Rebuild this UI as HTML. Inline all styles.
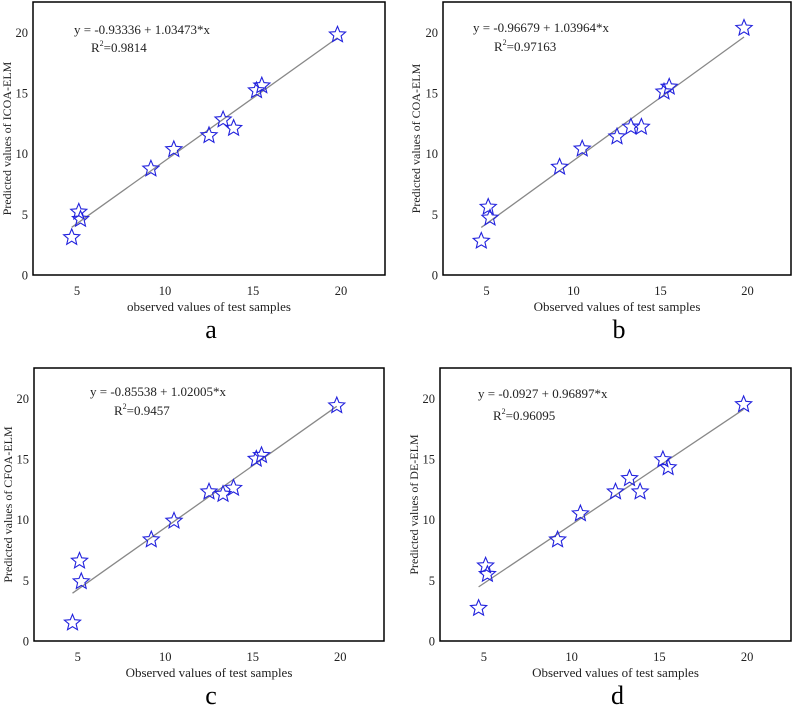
<!DOCTYPE html>
<html><head><meta charset="utf-8"><style>
body{margin:0;background:#fff;}
svg{display:block;font-family:"Liberation Serif",serif;}
</style></head><body>
<svg id="chart" width="796" height="711" viewBox="0 0 796 711" xmlns="http://www.w3.org/2000/svg"></svg>
<script>
const observed = [4.7, 5.1, 5.2, 9.2, 10.5, 12.5, 13.3, 13.9, 15.2, 15.5, 19.8];
const predA = [3.1, 5.2, 4.6, 8.75, 10.35, 11.5, 12.8, 12.1, 15.2, 15.6, 19.8];
const predB = [2.8, 5.6, 4.7, 8.9, 10.4, 11.4, 12.2, 12.2, 15.1, 15.5, 20.35];
const predC = [1.5, 6.6, 4.9, 8.35, 9.9, 12.3, 12.1, 12.6, 15.0, 15.3, 19.4];
const predD = [2.7, 6.2, 5.5, 8.35, 10.5, 12.3, 13.4, 12.3, 14.95, 14.3, 19.5];
const intercepts = [-0.93336, -0.96679, -0.85538, -0.0927];
const slopes = [1.03473, 1.03964, 1.02005, 0.96897];
const eqLabels = ["y = -0.93336 + 1.03473*x", "y = -0.96679 + 1.03964*x", "y = -0.85538 + 1.02005*x", "y = -0.0927 + 0.96897*x"];
const r2Labels = ["0.9814", "0.97163", "0.9457", "0.96095"];
const yTitles = ["Predicted values of ICOA-ELM", "Predicted values of COA-ELM", "Predicted values of CFOA-ELM", "Predicted values of DE-ELM"];
const xTitles = ["observed values of test samples", "Observed values of test samples", "Observed values of test samples", "Observed values of test samples"];
const panelLetters = ["a", "b", "c", "d"];
const xTicks = [5, 10, 15, 20];
const yTicks = [0, 5, 10, 15, 20];
const preds = [predA, predB, predC, predD];

const layout = [
  {l:33, r:385, b:275, t:2, eq:[74,34], r2:[91,52], yt:11},
  {l:443, r:791, b:275, t:2, eq:[473,32], r2:[494,51], yt:420},
  {l:34, r:384, b:641, t:368, eq:[90,396], r2:[114,415], yt:12},
  {l:440, r:791, b:641, t:368, eq:[478,398], r2:[493,420], yt:418}
];
const NS = "http://www.w3.org/2000/svg";
const svg = document.getElementById('chart');
function mk(tag, attrs, parent){const e=document.createElementNS(NS,tag);for(const k in attrs)e.setAttribute(k,attrs[k]);(parent||svg).appendChild(e);return e;}
function star(cx,cy,R){const r=R*0.45;let p=[];for(let i=0;i<10;i++){const a=-Math.PI/2+i*Math.PI/5;const rr=i%2?r:R;p.push((cx+rr*Math.cos(a)).toFixed(1)+","+(cy+rr*Math.sin(a)).toFixed(1));}return p.join(" ");}

layout.forEach((L,i)=>{
  const g = mk('g',{});
  
  
  const xs = v => L.l + (v-2.5)/20*(L.r-L.l);
  const ys = v => L.b - v/22.5*(L.b-L.t);
  const fr = mk('rect',{x:L.l,y:L.t,width:L.r-L.l,height:L.b-L.t,fill:'none',stroke:'#000','stroke-width':1.5},g);
  
  
  xTicks.forEach(v=>{
    const t=mk('text',{x:xs(v),y:L.b+20,'text-anchor':'middle','font-size':12.5,fill:'#222'},g);
    t.textContent=v;
    
    
  });
  yTicks.forEach(v=>{
    const t=mk('text',{x:L.l-5,y:ys(v)+4.5,'text-anchor':'end','font-size':12.5,fill:'#222'},g);
    t.textContent=v;
    
    
  });
  const x0=observed[0], x1=observed[observed.length-1];
  const fl=mk('line',{x1:xs(x0),y1:ys(intercepts[i]+slopes[i]*x0),x2:xs(x1),y2:ys(intercepts[i]+slopes[i]*x1),stroke:'#888','stroke-width':1.3},g);
  
  
  observed.forEach((o,j)=>{
    const s=mk('polygon',{points:star(xs(o),ys(preds[i][j]),8.5),fill:'none',stroke:'#2222dd','stroke-width':1.1},g);
    
    
  });
  const eq=mk('text',{x:L.eq[0],y:L.eq[1],'font-size':13,fill:'#222'},g);
  eq.textContent=eqLabels[i];
  
  
  const r2=mk('text',{x:L.r2[0],y:L.r2[1],'font-size':13,fill:'#222'},g);
  r2.innerHTML='R<tspan font-size="8" dy="-6">2</tspan><tspan dy="6">='+r2Labels[i]+'</tspan>';
  
  
  const xt=mk('text',{x:(L.l+L.r)/2,y:L.b+36,'text-anchor':'middle','font-size':13,fill:'#222'},g);
  xt.textContent=xTitles[i];
  
  
  const cy=(L.t+L.b)/2;
  const yt=mk('text',{x:L.yt,y:cy,'text-anchor':'middle','font-size':12,fill:'#222',transform:'rotate(-90 '+L.yt+' '+cy+')'},g);
  yt.textContent=yTitles[i];
  
  
  const pl=mk('text',{x:(L.l+L.r)/2+2,y:L.b+63,'text-anchor':'middle','font-size':26,fill:'#000'},g);
  pl.textContent=panelLetters[i];
  
  
});
</script>
</body></html>
